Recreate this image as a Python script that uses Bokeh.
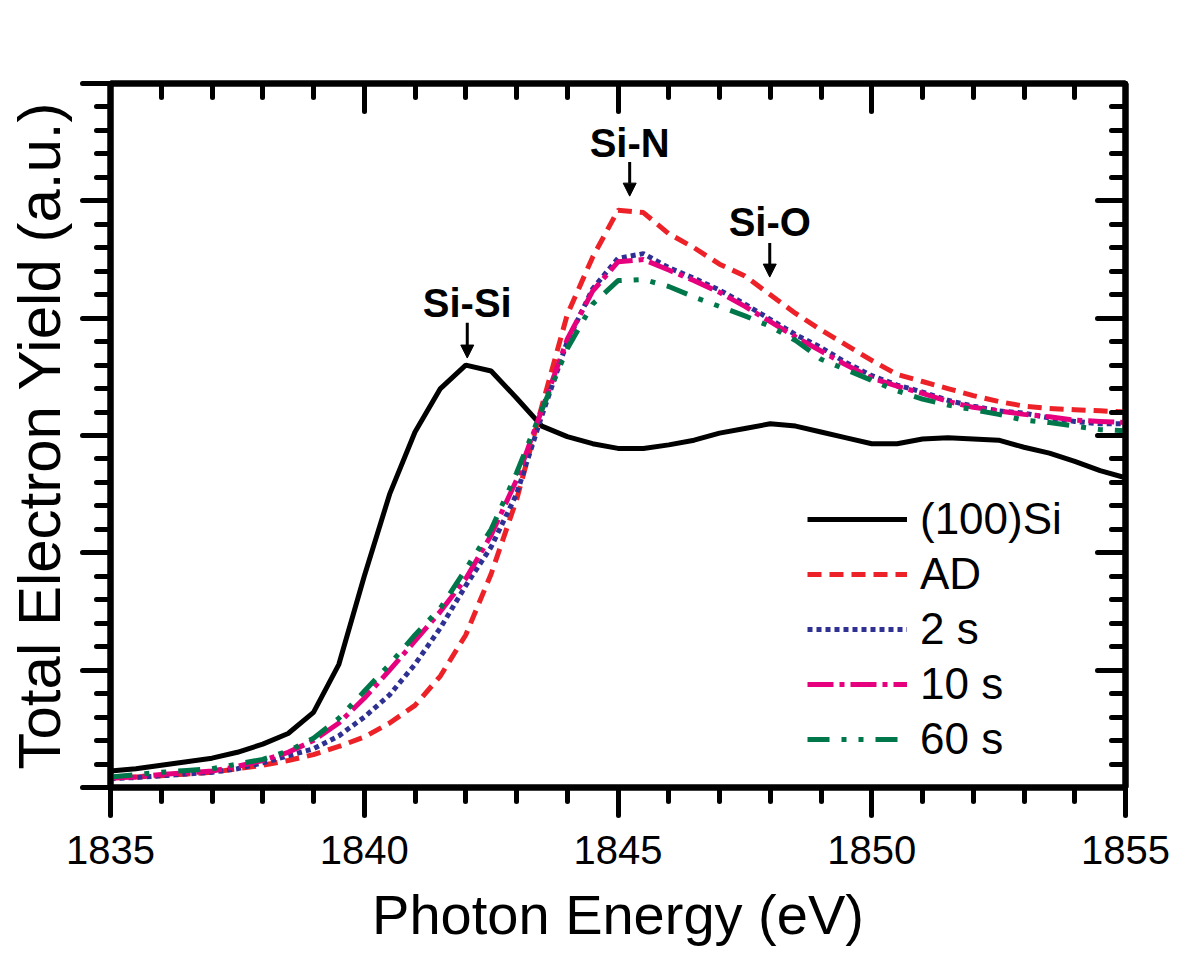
from bokeh.plotting import figure
from bokeh.models import (Range1d, FixedTicker, LinearAxis, Legend, LegendItem,
                          Label, Arrow, NormalHead)
from bokeh.embed import file_html
from bokeh.resources import INLINE

# ---------------- data ----------------
energy = [1835.0, 1835.5, 1836.0, 1836.5, 1837.0, 1837.5, 1838.0, 1838.5, 1839.0, 1839.5,
          1840.0, 1840.5, 1841.0, 1841.5, 1842.0, 1842.5, 1843.0, 1843.5, 1844.0, 1844.5,
          1845.0, 1845.5, 1846.0, 1846.5, 1847.0, 1847.5, 1848.0, 1848.5, 1849.0, 1849.5,
          1850.0, 1850.5, 1851.0, 1851.5, 1852.0, 1852.5, 1853.0, 1853.5, 1854.0, 1854.5,
          1855.0]

si100 = [0.14, 0.16, 0.19, 0.22, 0.25, 0.30, 0.37, 0.46, 0.64, 1.05,
         1.80, 2.50, 3.03, 3.40, 3.60, 3.55, 3.32, 3.08, 2.99, 2.93,
         2.89, 2.89, 2.92, 2.96, 3.02, 3.06, 3.10, 3.08, 3.03, 2.98,
         2.93, 2.93, 2.97, 2.98, 2.97, 2.96, 2.90, 2.85, 2.78, 2.70,
         2.64]

ad = [0.08, 0.09, 0.10, 0.115, 0.13, 0.16, 0.19, 0.23, 0.28, 0.35,
      0.43, 0.55, 0.70, 0.95, 1.30, 1.82, 2.45, 3.25, 4.03, 4.52,
      4.92, 4.90, 4.72, 4.60, 4.46, 4.36, 4.20, 4.04, 3.90, 3.77,
      3.64, 3.52, 3.46, 3.40, 3.34, 3.29, 3.25, 3.23, 3.22, 3.21,
      3.20]

s2 = [0.075, 0.085, 0.10, 0.115, 0.13, 0.16, 0.21, 0.27, 0.33, 0.44,
      0.60, 0.79, 1.05, 1.36, 1.72, 2.05, 2.50, 3.17, 3.80, 4.25,
      4.51, 4.55, 4.43, 4.34, 4.24, 4.12, 3.99, 3.86, 3.75, 3.62,
      3.51, 3.43, 3.37, 3.30, 3.25, 3.21, 3.19, 3.15, 3.12, 3.10,
      3.10]

s10 = [0.08, 0.09, 0.11, 0.125, 0.14, 0.18, 0.23, 0.30, 0.40, 0.55,
       0.76, 1.00, 1.25, 1.50, 1.78, 2.15, 2.62, 3.22, 3.82, 4.23,
       4.48, 4.50, 4.41, 4.32, 4.22, 4.10, 3.97, 3.84, 3.72, 3.60,
       3.49, 3.42, 3.36, 3.29, 3.24, 3.21, 3.18, 3.16, 3.13, 3.12,
       3.11]

s60 = [0.09, 0.11, 0.13, 0.145, 0.16, 0.20, 0.24, 0.31, 0.42, 0.59,
       0.82, 1.05, 1.30, 1.53, 1.86, 2.20, 2.68, 3.22, 3.74, 4.12,
       4.32, 4.33, 4.27, 4.18, 4.10, 4.02, 3.93, 3.81, 3.65, 3.56,
       3.47, 3.38, 3.31, 3.26, 3.22, 3.18, 3.13, 3.11, 3.08, 3.05,
       3.04]

series_labels = ["(100)Si", "AD", "2 s", "10 s", "60 s"]

x_major_ticks = [1835, 1840, 1845, 1850, 1855]
x_minor_ticks = list(range(1835, 1856))
y_major_ticks = [0, 1, 2, 3, 4, 5, 6]
y_minor_ticks = [i / 5 for i in range(0, 31)]

peak_labels = ["Si-Si", "Si-N", "Si-O"]
peak_energy = [1842.03, 1845.23, 1847.99]
peak_text_y = [4.13, 5.49, 4.82]
peak_arrow_top = [3.96, 5.33, 4.64]
peak_arrow_tip = [3.66, 5.04, 4.35]

x_title = "Photon Energy (eV)"
y_title = "Total Electron Yield (a.u.)"

# ---------------- figure ----------------
FONT = "Liberation Sans"

p = figure(width=1184, height=950, output_backend="svg", toolbar_location=None,
           x_range=Range1d(1835, 1855), y_range=Range1d(0, 6),
           min_border_left=110, min_border_top=83, min_border_right=59,
           min_border_bottom=163, x_axis_label=x_title, y_axis_label=y_title)
p.grid.visible = False
p.outline_line_color = "black"
p.outline_line_width = 6
p.background_fill_color = "white"
p.border_fill_color = "white"

xt = FixedTicker(ticks=x_major_ticks, minor_ticks=x_minor_ticks)
yt = FixedTicker(ticks=y_major_ticks, minor_ticks=y_minor_ticks)


def style_axis(ax, outward=True):
    ax.axis_line_width = 6
    ax.axis_line_color = "black"
    ax.major_tick_line_width = 5
    ax.minor_tick_line_width = 5
    ax.major_tick_line_cap = "round"
    ax.minor_tick_line_cap = "round"
    if outward:
        ax.major_tick_out, ax.major_tick_in = 28, 0
        ax.minor_tick_out, ax.minor_tick_in = 14, 0
    else:
        ax.major_tick_out, ax.major_tick_in = 0, 28
        ax.minor_tick_out, ax.minor_tick_in = 0, 14
    ax.major_label_text_font = FONT
    ax.major_label_text_font_size = "40px"
    ax.major_label_text_color = "black"
    ax.axis_label_text_font = FONT
    ax.axis_label_text_font_style = "normal"
    ax.axis_label_text_color = "black"


xb = p.xaxis[0]
xb.ticker = xt
style_axis(xb, True)
xb.major_label_standoff = 20
xb.axis_label_standoff = 16
xb.axis_label_text_font_size = "56px"

yl = p.yaxis[0]
yl.ticker = yt
style_axis(yl, True)
yl.major_label_overrides = {t: "" for t in y_major_ticks}
yl.major_label_standoff = 0
yl.axis_label_standoff = 10
yl.axis_label_text_font_size = "60px"

xtop = LinearAxis(ticker=xt, major_label_overrides={t: "" for t in x_major_ticks},
                  major_label_standoff=0)
style_axis(xtop, False)
p.add_layout(xtop, "above")

yright = LinearAxis(ticker=yt, major_label_overrides={t: "" for t in y_major_ticks},
                    major_label_standoff=0)
style_axis(yright, False)
p.add_layout(yright, "right")

# ---------------- curves ----------------
r_si = p.line(energy, si100, line_color="black", line_width=5)
r_ad = p.line(energy, ad, line_color="#ED2228", line_width=5, line_dash="14 8")
r_2 = p.line(energy, s2, line_color="#2E3192", line_width=5, line_dash="5 4")
r_10 = p.line(energy, s10, line_color="#E6007E", line_width=5, line_dash="26 6 5 6")
r_60 = p.line(energy, s60, line_color="#00774A", line_width=5,
              line_dash="22 12 5 12 5 12")

renderers = [r_si, r_ad, r_2, r_10, r_60]
legend = Legend(items=[LegendItem(label=lab, renderers=[r])
                       for lab, r in zip(series_labels, renderers)],
                location=(697, 21), glyph_width=100, glyph_height=54,
                label_height=54, spacing=1, padding=0, margin=0,
                label_standoff=13, label_text_font=FONT,
                label_text_font_size="44px", label_text_color="black",
                background_fill_alpha=0, border_line_alpha=0)
p.add_layout(legend)

# ---------------- peak annotations ----------------
for lab, ex, ty, ya, yb in zip(peak_labels, peak_energy, peak_text_y,
                               peak_arrow_top, peak_arrow_tip):
    p.add_layout(Label(x=ex, y=ty, text=lab, text_align="center",
                       text_baseline="middle", text_font=FONT,
                       text_font_style="bold", text_font_size="40px",
                       text_color="black"))
    p.add_layout(Arrow(x_start=ex, y_start=ya, x_end=ex, y_end=yb,
                       line_width=3, line_color="black",
                       end=NormalHead(size=13, fill_color="black",
                                      line_color="black", line_width=1)))

open("out.html", "w").write(file_html(p, INLINE))
